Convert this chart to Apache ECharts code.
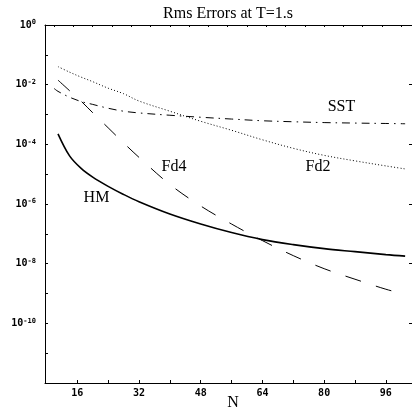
<!DOCTYPE html>
<html><head><meta charset="utf-8">
<script src="https://cdn.jsdelivr.net/npm/echarts@6/dist/echarts.min.js"></script>
<style>html,body{margin:0;padding:0;background:#fff}#c{width:412px;height:407px}</style>
</head><body><div id="c"></div>
<script>
const titleText = 'Rms Errors at T=1.s';
const xName = 'N';
const seriesNames = ['HM', 'Fd4', 'Fd2', 'SST'];
const nValues = [11, 14, 17, 20, 24, 28, 32, 40, 48, 56, 64, 72, 80, 88, 96, 101];
const hmValues = [2.25e-4, 4.10e-5, 1.56e-5, 7.96e-6, 3.91e-6, 2.09e-6, 1.19e-6, 4.61e-7, 2.13e-7, 1.10e-7, 6.41e-8, 4.35e-8, 3.19e-8, 2.53e-8, 2.01e-8, 1.79e-8];
const fd4Values = [1.42e-2, 6.28e-3, 2.79e-3, 1.15e-3, 3.59e-4, 1.12e-4, 3.66e-5, 4.52e-6, 8.57e-7, 2.13e-7, 5.93e-8, 1.86e-8, 6.79e-9, 3.01e-9, 1.39e-9, 9.44e-10];
const fd2Values = [4.03e-2, 2.63e-2, 1.79e-2, 1.26e-2, 7.62e-3, 4.98e-3, 2.83e-3, 1.29e-3, 5.93e-4, 2.96e-4, 1.42e-4, 7.35e-5, 4.27e-5, 2.79e-5, 1.89e-5, 1.50e-5];
const sstN = [10, 11, 14, 17, 20, 24, 28, 32, 40, 48, 56, 64, 72, 80, 88, 96, 101];
const sstValues = [7.45e-3, 5.96e-3, 3.80e-3, 2.72e-3, 2.18e-3, 1.62e-3, 1.29e-3, 1.13e-3, 9.44e-4, 8.09e-4, 7.04e-4, 6.17e-4, 5.71e-4, 5.36e-4, 5.16e-4, 5.00e-4, 4.89e-4];
const xTickValues = [16, 24, 32, 40, 48, 56, 64, 72, 80, 88, 96];
const xLabelValues = [16, 32, 48, 64, 80, 96];
const topTickValues = [10, 15, 20, 25, 30, 35, 40, 45, 50, 55, 60, 65, 70, 75, 80, 85, 90, 95, 100];
const yTickValues = [1, 1e-1, 1e-2, 1e-3, 1e-4, 1e-5, 1e-6, 1e-7, 1e-8, 1e-9, 1e-10, 1e-11, 1e-12];
const yLabelValues = [1, 1e-2, 1e-4, 1e-6, 1e-8, 1e-10];
const rightTickValues = [1e-2, 1e-4, 1e-6, 1e-8, 1e-10];

const pairs = (xs, ys) => xs.map((x, i) => [x, ys[i]]);
const chart = echarts.init(document.getElementById('c'), null, {renderer: 'canvas'});
const X_MIN = 7.63, X_MAX = 102.78;
const serif = '"Liberation Serif", "Times New Roman", serif';
const mono = '"DejaVu Sans Mono", monospace';
const lineBase = {type: 'line', showSymbol: false, symbol: 'none', smooth: 0.35, silent: true};

chart.setOption({
  animation: false,
  backgroundColor: '#fff',
  grid: {left: 45, right: -1, top: 25, bottom: 24, containLabel: false},
  xAxis: [{
    type: 'value', position: 'bottom', min: X_MIN, max: X_MAX,
    axisLine: {show: true, onZero: false, lineStyle: {color: '#000', width: 1}},
    axisTick: {show: true, inside: true, length: 3, customValues: xTickValues, lineStyle: {color: '#000'}},
    axisLabel: {show: true, customValues: xLabelValues, margin: 5, color: '#000', fontFamily: mono, fontWeight: 'bold', fontSize: 10},
    splitLine: {show: false}
  }, {
    type: 'value', position: 'top', min: X_MIN, max: X_MAX,
    axisLine: {show: true, onZero: false, lineStyle: {color: '#000', width: 1}},
    axisTick: {show: true, inside: true, length: 2, customValues: topTickValues, lineStyle: {color: '#000'}},
    axisLabel: {show: false},
    splitLine: {show: false}
  }],
  yAxis: [{
    type: 'log', logBase: 10, min: 1e-12, max: 1, position: 'left',
    axisLine: {show: true, onZero: false, lineStyle: {color: '#000', width: 1}},
    axisTick: {show: true, inside: true, length: 3, customValues: yTickValues, lineStyle: {color: '#000'}},
    axisLabel: {
      show: true, customValues: yLabelValues, margin: 9, color: '#000',
      formatter: v => '{a|10}{b|' + Math.round(Math.log10(v)) + '}',
      rich: {
        a: {fontFamily: mono, fontWeight: 'bold', fontSize: 10, color: '#000'},
        b: {fontFamily: mono, fontWeight: 'bold', fontSize: 7, color: '#000', padding: [0, 0, 5, 0]}
      }
    },
    splitLine: {show: false}
  }, {
    type: 'log', logBase: 10, min: 1e-12, max: 1, position: 'right',
    axisLine: {show: false},
    axisTick: {show: true, inside: true, length: 3, customValues: rightTickValues, lineStyle: {color: '#000'}},
    axisLabel: {show: false},
    splitLine: {show: false}
  }],
  series: [
    Object.assign({}, lineBase, {name: seriesNames[0], data: pairs(nValues, hmValues), lineStyle: {color: '#000', width: 1.6, type: 'solid'}}),
    Object.assign({}, lineBase, {name: seriesNames[1], data: pairs(nValues, fd4Values), lineStyle: {color: '#000', width: 1, type: [16, 16]}}),
    Object.assign({}, lineBase, {name: seriesNames[2], data: pairs(nValues, fd2Values), lineStyle: {color: '#000', width: 1, type: [1, 2.2]}}),
    Object.assign({}, lineBase, {name: seriesNames[3], data: pairs(sstN, sstValues), lineStyle: {color: '#000', width: 1, type: [8, 5, 1.5, 5]}})
  ],
  graphic: [
    {type: 'text', x: 228, y: 14, style: {text: titleText, font: '16px ' + serif, fill: '#000', align: 'center', verticalAlign: 'middle'}},
    {type: 'text', x: 233, y: 403, style: {text: xName, font: '16px ' + serif, fill: '#000', align: 'center', verticalAlign: 'middle'}},
    {type: 'text', x: 96.5, y: 198, style: {text: seriesNames[0], font: '16px ' + serif, fill: '#000', align: 'center', verticalAlign: 'middle'}},
    {type: 'text', x: 174, y: 167, style: {text: seriesNames[1], font: '16px ' + serif, fill: '#000', align: 'center', verticalAlign: 'middle'}},
    {type: 'text', x: 318, y: 167, style: {text: seriesNames[2], font: '16px ' + serif, fill: '#000', align: 'center', verticalAlign: 'middle'}},
    {type: 'text', x: 341.5, y: 107, style: {text: seriesNames[3], font: '16px ' + serif, fill: '#000', align: 'center', verticalAlign: 'middle'}}
  ]
});
</script></body></html>
